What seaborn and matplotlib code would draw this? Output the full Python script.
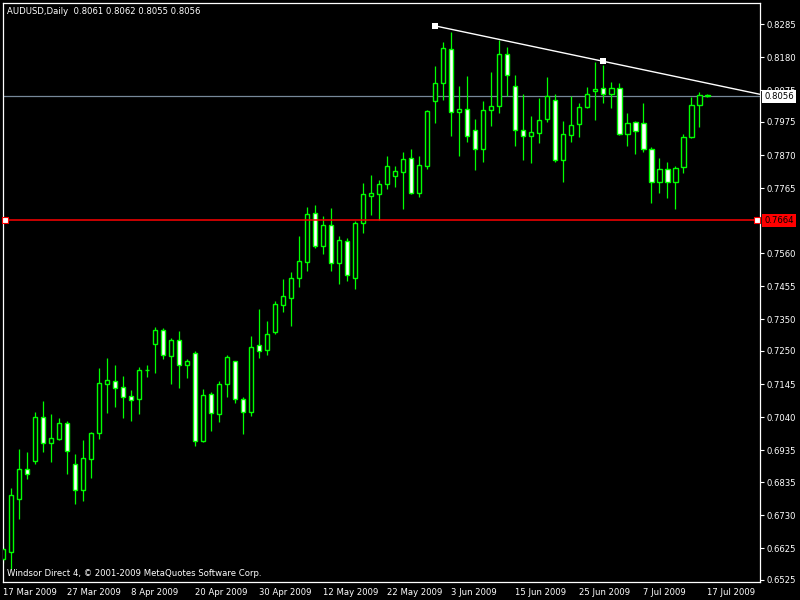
import numpy as np
import pandas as pd
import matplotlib
matplotlib.use("Agg")
import matplotlib.pyplot as plt
import seaborn as sns
from matplotlib.transforms import blended_transform_factory

# ---------------- data ----------------
dates = pd.bdate_range("2009-03-17", "2009-07-17")

open_ = [0.6592, 0.6615, 0.6782, 0.6875, 0.6903, 0.7040, 0.6958, 0.6971, 0.7021, 0.6891,
         0.6809, 0.6909, 0.6989, 0.7146, 0.7154, 0.7135, 0.7107, 0.7097, 0.7190, 0.7271,
         0.7315, 0.7233, 0.7284, 0.7205, 0.7243, 0.6964, 0.7113, 0.7050, 0.7145, 0.7217,
         0.7097, 0.7058, 0.7269, 0.7253, 0.7311, 0.7396, 0.7419, 0.7480, 0.7533, 0.7686,
         0.7583, 0.7648, 0.7529, 0.7597, 0.7482, 0.7654, 0.7742, 0.7748, 0.7777, 0.7805,
         0.7818, 0.7860, 0.7751, 0.7836, 0.8040, 0.8097, 0.8205, 0.8006, 0.8015, 0.7949,
         0.7888, 0.8012, 0.8025, 0.8189, 0.8088, 0.7949, 0.7930, 0.7939, 0.7983, 0.8044,
         0.7854, 0.7933, 0.7968, 0.8021, 0.8072, 0.8081, 0.8063, 0.8081, 0.7936, 0.7974,
         0.7971, 0.7888, 0.7784, 0.7825, 0.7784, 0.7831, 0.7927, 0.8028, 0.8061]
high = [0.6633, 0.6815, 0.6940, 0.6930, 0.7057, 0.7092, 0.7050, 0.7038, 0.7027, 0.6924,
        0.6968, 0.6994, 0.7196, 0.7228, 0.7206, 0.7171, 0.7126, 0.7199, 0.7206, 0.7326,
        0.7323, 0.7290, 0.7313, 0.7224, 0.7250, 0.7130, 0.7119, 0.7155, 0.7237, 0.7218,
        0.7103, 0.7298, 0.7383, 0.7345, 0.7408, 0.7478, 0.7500, 0.7614, 0.7706, 0.7712,
        0.7677, 0.7703, 0.7614, 0.7608, 0.7660, 0.7783, 0.7807, 0.7791, 0.7867, 0.7836,
        0.7879, 0.7889, 0.7867, 0.8013, 0.8152, 0.8228, 0.8260, 0.8089, 0.8120, 0.7984,
        0.8041, 0.8133, 0.8234, 0.8212, 0.8124, 0.8063, 0.7994, 0.8051, 0.8117, 0.8063,
        0.7978, 0.8056, 0.8034, 0.8085, 0.8165, 0.8155, 0.8100, 0.8097, 0.8002, 0.7977,
        0.8034, 0.7895, 0.7860, 0.7847, 0.7835, 0.7936, 0.8055, 0.8069, 0.8062]
low = [0.6579, 0.6560, 0.6719, 0.6845, 0.6893, 0.6930, 0.6899, 0.6968, 0.6862, 0.6767,
       0.6776, 0.6849, 0.6972, 0.7055, 0.7074, 0.7039, 0.7029, 0.7051, 0.7168, 0.7181,
       0.7226, 0.7146, 0.7134, 0.7165, 0.6950, 0.6961, 0.6998, 0.7025, 0.7105, 0.7084,
       0.6986, 0.7045, 0.7229, 0.7237, 0.7305, 0.7373, 0.7329, 0.7453, 0.7503, 0.7576,
       0.7557, 0.7504, 0.7462, 0.7472, 0.7447, 0.7624, 0.7680, 0.7665, 0.7763, 0.7769,
       0.7699, 0.7747, 0.7738, 0.7827, 0.7973, 0.8045, 0.7931, 0.7868, 0.7912, 0.7824,
       0.7849, 0.7963, 0.8004, 0.8056, 0.7900, 0.7855, 0.7846, 0.7909, 0.7976, 0.7847,
       0.7786, 0.7912, 0.7928, 0.8019, 0.7980, 0.8036, 0.8020, 0.7933, 0.7900, 0.7874,
       0.7881, 0.7719, 0.7751, 0.7735, 0.7700, 0.7812, 0.7923, 0.7958, 0.8055]
close = [0.6622, 0.6793, 0.6875, 0.6862, 0.7040, 0.6958, 0.6974, 0.7021, 0.6934, 0.6809,
         0.6910, 0.6989, 0.7149, 0.7157, 0.7132, 0.7105, 0.7096, 0.7189, 0.7191, 0.7315,
         0.7236, 0.7284, 0.7205, 0.7217, 0.6964, 0.7110, 0.7053, 0.7145, 0.7230, 0.7099,
         0.7058, 0.7263, 0.7251, 0.7304, 0.7399, 0.7424, 0.7480, 0.7534, 0.7683, 0.7583,
         0.7648, 0.7529, 0.7600, 0.7491, 0.7654, 0.7746, 0.7749, 0.7778, 0.7835, 0.7819,
         0.7857, 0.7751, 0.7838, 0.8009, 0.8097, 0.8208, 0.8006, 0.8015, 0.7930, 0.7888,
         0.8012, 0.8025, 0.8189, 0.8123, 0.7949, 0.7930, 0.7942, 0.7980, 0.8056, 0.7854,
         0.7936, 0.7964, 0.8021, 0.8063, 0.8078, 0.8063, 0.8081, 0.7936, 0.7971, 0.7945,
         0.7888, 0.7784, 0.7825, 0.7784, 0.7828, 0.7927, 0.8028, 0.8059, 0.8056]

date_labels = ["17 Mar 2009", "27 Mar 2009", "8 Apr 2009", "20 Apr 2009", "30 Apr 2009",
               "12 May 2009", "22 May 2009", "3 Jun 2009", "15 Jun 2009", "25 Jun 2009",
               "7 Jul 2009", "17 Jul 2009"]
price_ticks = [0.8285, 0.8180, 0.8075, 0.7975, 0.7870, 0.7765, 0.7560, 0.7455, 0.7350,
               0.7250, 0.7145, 0.7040, 0.6935, 0.6835, 0.6730, 0.6625, 0.6525]
bid_price = 0.8056
support_price = 0.7664
trend_bars = [54, 75]
trend_prices = [0.8279, 0.8167]
title_text = "AUDUSD,Daily  0.8061 0.8062 0.8055 0.8056"
footer_text = "Windsor Direct 4, \u00a9 2001-2009 MetaQuotes Software Corp."

df = pd.DataFrame({"date": dates, "open": open_, "high": high, "low": low, "close": close})
df["bar"] = np.arange(len(df))

# ---------------- style ----------------
sns.set_style("dark", rc={"axes.facecolor": "black", "figure.facecolor": "black",
                          "axes.edgecolor": "white", "text.color": "white",
                          "xtick.color": "white", "ytick.color": "white"})
plt.rcParams["font.family"] = ["DejaVu Sans"]
FS = 6.1

GREEN = "#00FF00"
fig = plt.figure(figsize=(8, 6), dpi=100)
ax = fig.add_axes([2.7 / 800, 18 / 600, 757.3 / 800, 579.5 / 600])
ax.set_facecolor("black")

# wicks
ax.vlines(df["bar"], df["low"], df["high"], color=GREEN, lw=0.9, zorder=2)
# bodies
bull = df["close"] >= df["open"]
body_bottom = np.minimum(df["open"], df["close"])
body_height = np.maximum(np.abs(df["close"] - df["open"]), 0.00003)
ax.bar(df["bar"], body_height, bottom=body_bottom, width=0.58,
       color=np.where(bull, "black", "white"), edgecolor=GREEN, linewidth=1.0, zorder=3)

# bid line and support line
ax.axhline(bid_price, color="#778899", lw=0.9, zorder=1)
ax.axhline(support_price, color="#FF0000", lw=1.1, zorder=4)
sup_df = pd.DataFrame({"bar": [0.25, 94.25], "price": [support_price, support_price]})
sns.scatterplot(data=sup_df, x="bar", y="price", marker="s", s=14, color="white",
                edgecolor="#FF0000", linewidth=0.8, zorder=6, ax=ax, clip_on=False)

# trend line (ray to the right edge)
xmax = 94.6
slope = (trend_prices[1] - trend_prices[0]) / (trend_bars[1] - trend_bars[0])
ray = pd.DataFrame({"bar": [trend_bars[0], xmax],
                    "price": [trend_prices[0], trend_prices[0] + slope * (xmax - trend_bars[0])]})
sns.lineplot(data=ray, x="bar", y="price", color="white", lw=1.0, ax=ax, zorder=5)
anchors = pd.DataFrame({"bar": trend_bars, "price": trend_prices})
sns.scatterplot(data=anchors, x="bar", y="price", marker="s", s=16, color="white",
                edgecolor="white", linewidth=0, zorder=6, ax=ax)

ax.set_xlim(-0.05, xmax)
ax.set_ylim(0.65186, 0.83531)

# axes
for side in ["top", "left", "right", "bottom"]:
    ax.spines[side].set_color("white")
    ax.spines[side].set_linewidth(0.9)
ax.yaxis.tick_right()
ax.set_yticks(price_ticks)
ax.set_yticklabels([f"{v:.4f}" for v in price_ticks])
ax.set_xticks(df["bar"].iloc[::8])
ax.set_xticklabels(date_labels, ha="left")
ax.tick_params(axis="y", direction="out", length=3, width=0.8, pad=2, labelsize=FS,
               colors="white")
ax.tick_params(axis="x", direction="out", length=3, width=0.8, pad=1.5, labelsize=FS,
               colors="white")
ax.set_xlabel("")
ax.set_ylabel("")
ax.grid(False)

# price labels on the right axis
trans = blended_transform_factory(ax.transAxes, ax.transData)
ax.text(1.006, bid_price, f"{bid_price:.4f}", transform=trans, va="center", ha="left",
        fontsize=FS, color="black", zorder=10, clip_on=False,
        bbox=dict(boxstyle="square,pad=0.25", fc="white", ec="none"))
ax.text(1.006, support_price, f"{support_price:.4f}", transform=trans, va="center", ha="left",
        fontsize=FS, color="black", zorder=10, clip_on=False,
        bbox=dict(boxstyle="square,pad=0.25", fc="#FF0000", ec="none"))

# title and footer
fig.text(7 / 800, 1 - 11 / 600, title_text, fontsize=FS, color="white", va="center", ha="left")
fig.text(7 / 800, 1 - 574 / 600, footer_text, fontsize=FS, color="white", va="center", ha="left")

fig.savefig("out.png", dpi=100, facecolor="black")
